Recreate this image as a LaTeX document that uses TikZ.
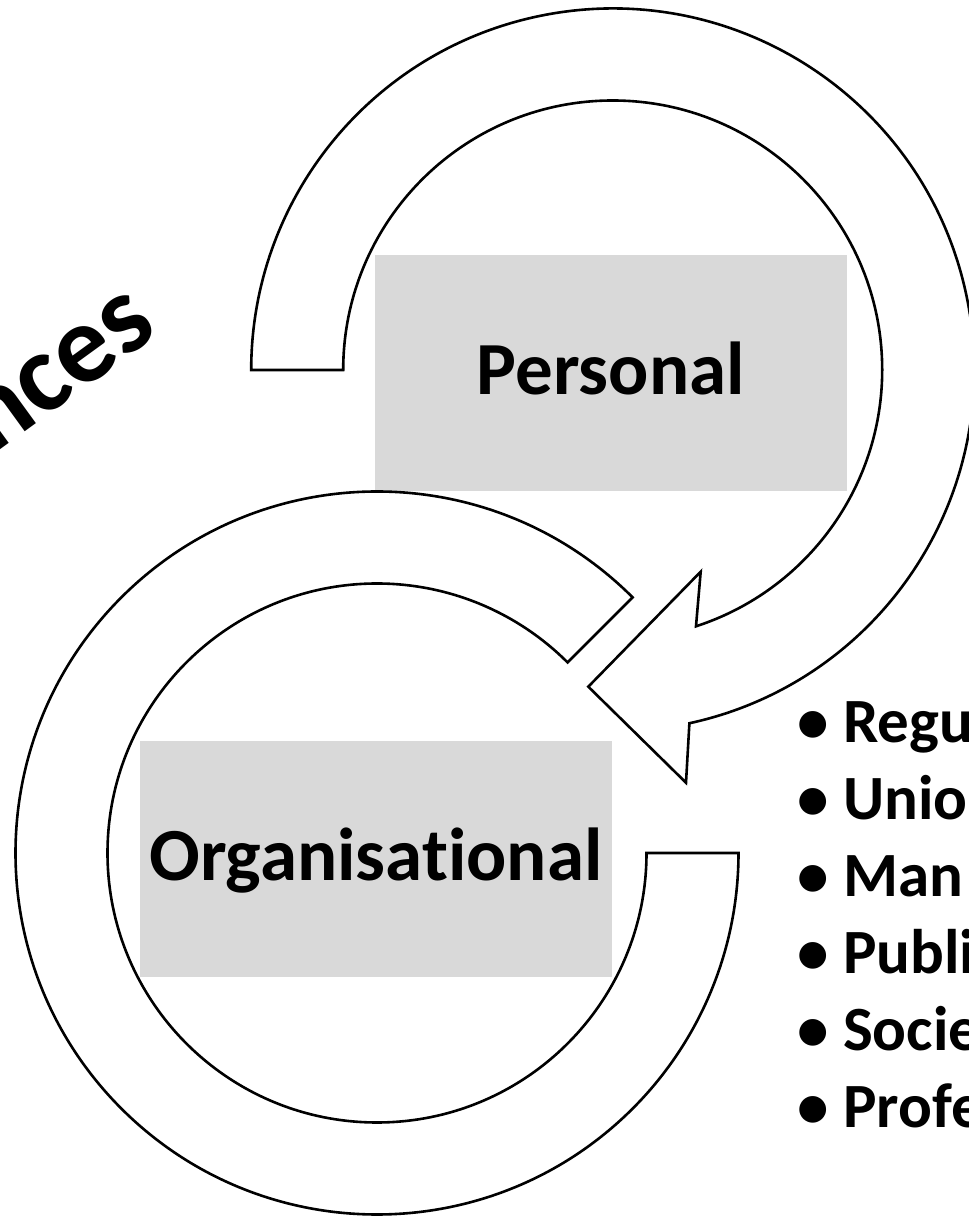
\documentclass[tikz,border=0pt]{standalone}
\usepackage{fontspec}
\setmainfont{Carlito}[Ligatures={NoCommon}]
\usetikzlibrary{calc}
\definecolor{boxgray}{HTML}{D9D9D9}

\begin{document}
\begin{tikzpicture}[x=1pt,y=1pt,
    ring/.style={draw=black, fill=white, line width=2.6pt, line join=miter},
    levelbox/.style={fill=boxgray, minimum width=471.7pt, minimum height=235.7pt, inner sep=0pt,
        text height=47.4pt, text depth=4pt, font=\bfseries\fontsize{75}{90}\selectfont},
    listline/.style={anchor=base west, inner sep=0pt, font=\bfseries\fontsize{63}{76}\selectfont}]
    \useasboundingbox (0,0) rectangle (969,1216);
    \clip (0,0) rectangle (969,1216);

    \coordinate (T) at (612.7,846);
    \coordinate (B) at (377,363);
    \coordinate (barbin) at (700.7,644.3);
    \coordinate (tip) at (588.3,529.3);
    \coordinate (barbout) at (686,433.3);

    \node[levelbox] (personal) at (610.8,843.1) {Personal};
    \node[levelbox] (organisational) at (375.9,357.1) {Organisational};

    \draw[ring] ($(B)+(45:361.5)$) arc[start angle=45, end angle=360, radius=361.5]
        -- ($(B)+(0:269.5)$) arc[start angle=360, end angle=45, radius=269.5] -- cycle;
    \draw[ring] ($(T)+(180:269.5)$) arc[start angle=180, end angle=-72, radius=269.5]
        -- (barbin) -- (tip) -- (barbout)
        -- ($(T)+(-77.75:361.5)$) arc[start angle=-77.75, end angle=180, radius=361.5] -- cycle;

    \node[anchor=base west, inner sep=0pt, rotate=36, font=\bfseries\fontsize{112}{130}\selectfont]
        (influence) at (-8,760) {nces};

    \node[listline] (l1) at (798.3,473) {\makebox[30pt]{•}\hspace{14.7pt}Regu};
    \node[listline] (l2) at (798.3,396) {\makebox[30pt]{•}\hspace{14.7pt}Unio};
    \node[listline] (l3) at (798.3,319) {\makebox[30pt]{•}\hspace{14.7pt}Man};
    \node[listline] (l4) at (798.3,242) {\makebox[30pt]{•}\hspace{14.7pt}Publi};
    \node[listline] (l5) at (798.3,165) {\makebox[30pt]{•}\hspace{14.7pt}Socie};
    \node[listline] (l6) at (798.3,88) {\makebox[30pt]{•}\hspace{14.7pt}Profe};
\end{tikzpicture}
\end{document}
